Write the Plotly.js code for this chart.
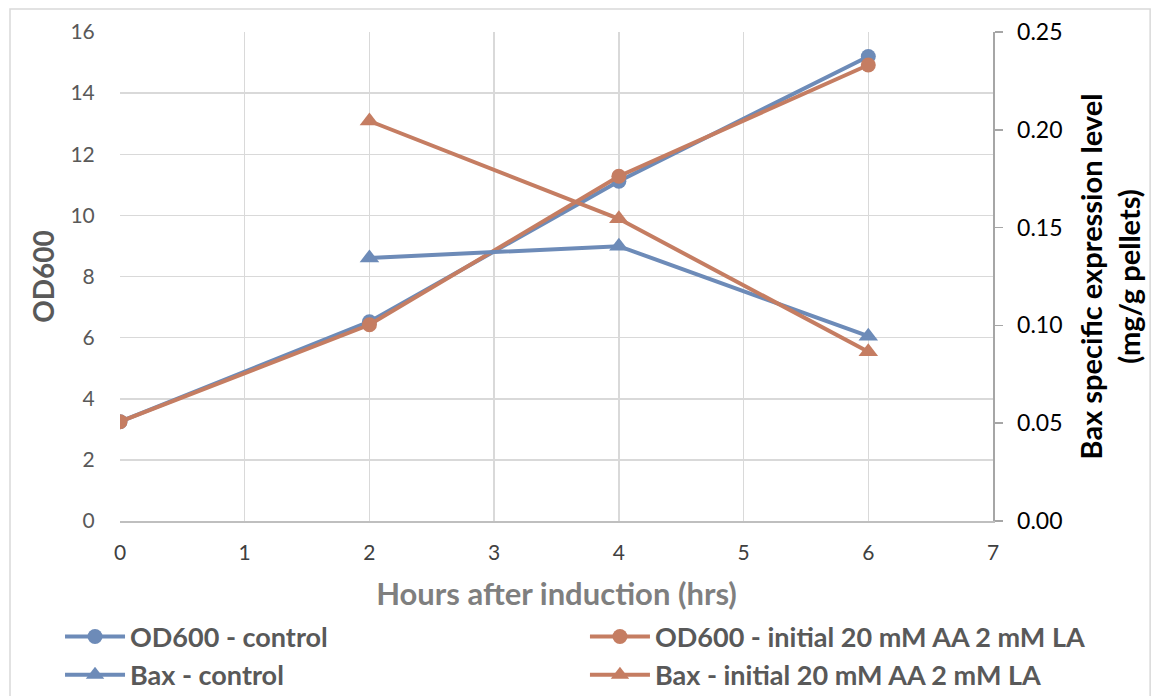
<!DOCTYPE html>
<html>
<head>
<meta charset="utf-8">
<script src="https://cdn.plot.ly/plotly-3.0.1.min.js"></script>
<style>html,body{margin:0;padding:0;background:#fff;}#chart{width:1152px;height:696px;}</style>
</head>
<body>
<div id="chart"></div>
<script>
const hoursOD = [0, 2, 4, 6];
const od600Control = [3.25, 6.52, 11.12, 15.2];
const od600Treated = [3.25, 6.42, 11.28, 14.92];
const hoursBax = [2, 4, 6];
const baxControl = [0.1345, 0.1405, 0.0945];
const baxTreated = [0.2045, 0.1545, 0.0865];
const seriesNames = ["OD600 - control", "OD600 - initial 20 mM AA 2 mM LA", "Bax - control", "Bax - initial 20 mM AA 2 mM LA"];

const blue = "#6d8bb8";
const orange = "#c57d62";
const font = "Lato, 'Open Sans', sans-serif";

const traces = [
  {x: hoursOD, y: od600Control, name: seriesNames[0], legend: "legend", mode: "lines+markers", line: {color: blue, width: 4}, marker: {symbol: "circle", size: 15, color: blue}},
  {x: hoursOD, y: od600Treated, name: seriesNames[1], legend: "legend2", mode: "lines+markers", line: {color: orange, width: 4}, marker: {symbol: "circle", size: 15, color: orange}},
  {x: hoursBax, y: baxControl, name: seriesNames[2], legend: "legend", yaxis: "y2", mode: "lines+markers", line: {color: blue, width: 4}, marker: {symbol: "triangle-up", size: 17, color: blue}},
  {x: hoursBax, y: baxTreated, name: seriesNames[3], legend: "legend2", yaxis: "y2", mode: "lines+markers", line: {color: orange, width: 4}, marker: {symbol: "triangle-up", size: 17, color: orange}}
];

const legendFont = {size: 27, color: "#595959", family: font, weight: "bold"};

const layout = {
  width: 1152, height: 696,
  margin: {l: 120, r: 159, t: 32, b: 175},
  paper_bgcolor: "#fff", plot_bgcolor: "#fff",
  font: {family: font, color: "#595959"},
  showlegend: true,
  xaxis: {
    range: [0, 7], dtick: 1, tick0: 0, showgrid: true, gridcolor: "#d9d9d9", gridwidth: 1.5,
    zeroline: false, showline: true, linecolor: "#bfbfbf", linewidth: 1.5,
    ticks: "outside", ticklen: 12, tickcolor: "rgba(0,0,0,0)",
    tickfont: {size: 21, color: "#404040", family: font},
    title: {text: "<b>Hours after induction (hrs)</b>", font: {size: 31, color: "#7f7f7f", family: font}, standoff: 23}
  },
  yaxis: {
    range: [0, 16], dtick: 2, showgrid: true, gridcolor: "#d9d9d9", gridwidth: 1.5,
    zeroline: false, showline: false,
    ticks: "outside", ticklen: 20, tickcolor: "rgba(0,0,0,0)",
    tickfont: {size: 21, color: "#595959", family: font},
    title: {text: "<b>OD600</b>", font: {size: 28, color: "#595959", family: font}, standoff: 7}
  },
  yaxis2: {
    overlaying: "y", side: "right", range: [0, 0.25], dtick: 0.05, tickformat: ".2f",
    showgrid: false, zeroline: false, showline: true, linecolor: "#a6a6a6", linewidth: 1.5,
    ticks: "outside", ticklen: 8, tickcolor: "#a6a6a6", tickwidth: 1.5,
    ticklabelstandoff: 10,
    tickfont: {size: 23, color: "#000", family: font},
    title: {text: "<b>Bax specific expression level<br>(mg/g pellets)</b>", font: {size: 29, color: "#000", family: font}, standoff: 20}
  },
  legend: {
    orientation: "v", xref: "paper", yref: "container", x: -0.0687, y: 0.12, xanchor: "left", yanchor: "top",
    itemwidth: 60, font: legendFont, bgcolor: "rgba(0,0,0,0)", tracegroupgap: 0
  },
  legend2: {
    orientation: "v", xref: "paper", yref: "container", x: 0.5326, y: 0.12, xanchor: "left", yanchor: "top",
    itemwidth: 60, font: legendFont, bgcolor: "rgba(0,0,0,0)", tracegroupgap: 0
  },
  shapes: [{
    type: "rect", xref: "paper", yref: "paper", x0: -0.126, x1: 1.18, y0: -0.37, y1: 1.047,
    line: {color: "#d9d9d9", width: 1.5}, fillcolor: "rgba(0,0,0,0)", layer: "below"
  }]
};

Plotly.newPlot("chart", traces, layout, {displayModeBar: false, staticPlot: true});
</script>
</body>
</html>
